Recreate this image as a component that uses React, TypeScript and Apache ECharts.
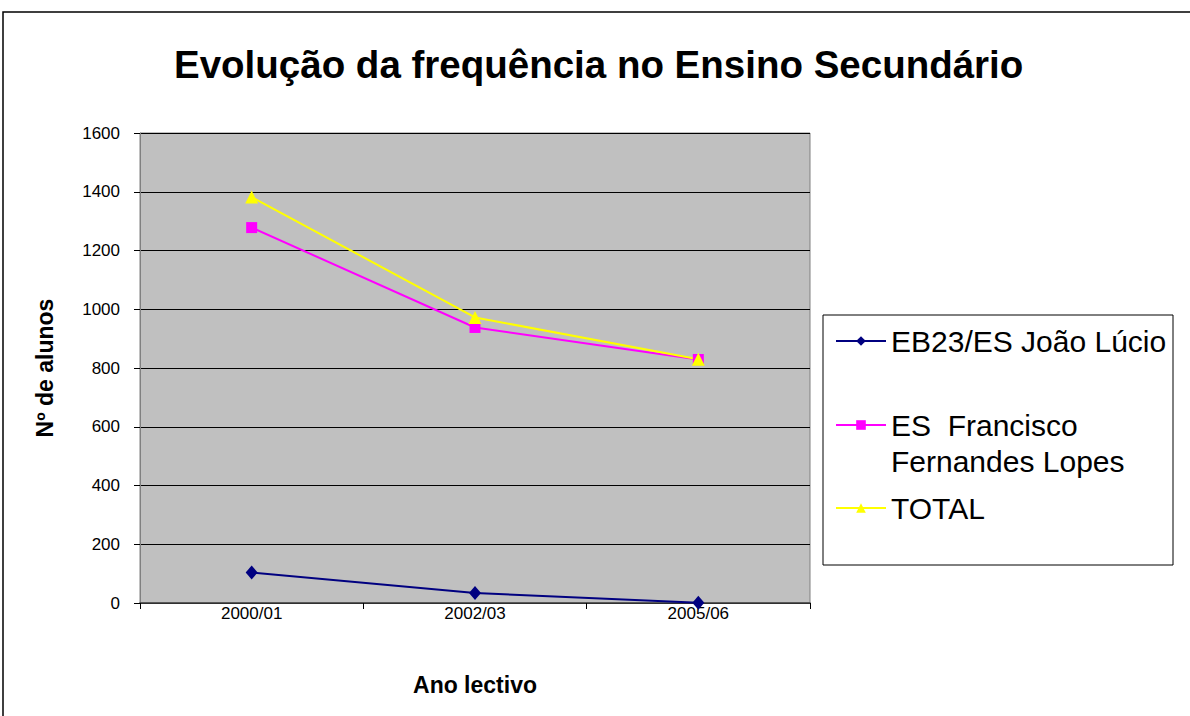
import React, { useEffect, useRef } from "react";
import * as echarts from "echarts";

const categories = ["2000/01", "2002/03", "2005/06"];
const joaoLucio = [104, 34, 1];
const franciscoFernandesLopes = [1278, 938, 829];
const total = [1382, 972, 830];
const seriesNames = ["EB23/ES João Lúcio", "ES  Francisco Fernandes Lopes", "TOTAL"];

export default function App() {
  const ref = useRef<HTMLDivElement>(null);
  useEffect(() => {
    if (!ref.current) return;
    const chart = echarts.init(ref.current, undefined, { renderer: "svg" });
    const font = "Liberation Sans, Arial, sans-serif";
    const legendText = { fontFamily: font, fontSize: 30, color: "#000", lineHeight: 36 };
    chart.setOption({
      animation: false,
      backgroundColor: "#fff",
      textStyle: { fontFamily: font },
      title: {
        text: "Evolução da frequência no Ensino Secundário",
        left: 174,
        top: 45,
        padding: 0,
        textStyle: { fontFamily: font, fontSize: 38.5, fontWeight: "bold", color: "#000" },
      },
      graphic: [
        { type: "rect", shape: { x: 3, y: 12, width: 1200, height: 720 }, style: { fill: "none", stroke: "#000", lineWidth: 1.5 }, silent: true },
        { type: "rect", shape: { x: 823, y: 315, width: 350, height: 250 }, style: { fill: "#fff", stroke: "#000", lineWidth: 1 }, silent: true, z: 0 },
      ],
      legend: [
        { data: [seriesNames[0]], left: 835, top: 323, padding: 0, itemWidth: 50, itemHeight: 12, textStyle: legendText, z: 5 },
        {
          data: [seriesNames[1]], left: 835, top: 371, padding: 0, itemWidth: 50, itemHeight: 12, z: 5,
          formatter: () => "\nES  Francisco\nFernandes Lopes",
          textStyle: legendText,
        },
        { data: [seriesNames[2]], left: 835, top: 490, padding: 0, itemWidth: 50, itemHeight: 12, textStyle: legendText, z: 5 },
      ],
      grid: {
        left: 140, top: 133, width: 670, height: 470, show: true,
        backgroundColor: "#C0C0C0", borderColor: "#808080", borderWidth: 1,
      },
      xAxis: {
        type: "category",
        data: categories,
        boundaryGap: true,
        name: "Ano lectivo",
        nameLocation: "middle",
        nameGap: 70,
        nameTextStyle: { fontFamily: font, fontSize: 23, fontWeight: "bold", color: "#000" },
        axisLine: { show: true, lineStyle: { color: "#404040", width: 1.5 } },
        axisTick: { show: true, length: 6, alignWithLabel: false, lineStyle: { color: "#000" } },
        axisLabel: { fontFamily: font, fontSize: 17, color: "#000", margin: 2 },
        splitLine: { show: false },
      },
      yAxis: {
        type: "value",
        min: 0,
        max: 1600,
        interval: 200,
        name: "Nº de alunos",
        nameLocation: "middle",
        nameGap: 84,
        nameTextStyle: { fontFamily: font, fontSize: 23, fontWeight: "bold", color: "#000" },
        axisLine: { show: true, lineStyle: { color: "#808080", width: 1 } },
        axisTick: { show: true, length: 6, lineStyle: { color: "#000" } },
        axisLabel: { fontFamily: font, fontSize: 17, color: "#000", margin: 20, formatter: (v: number) => String(v) },
        splitLine: { show: true, lineStyle: { color: "#000", width: 1 } },
      },
      series: [
        {
          name: seriesNames[0], type: "line", data: joaoLucio,
          symbol: "diamond", symbolSize: [12, 14],
          lineStyle: { color: "#000080", width: 2 }, itemStyle: { color: "#000080" },
        },
        {
          name: seriesNames[1], type: "line", data: franciscoFernandesLopes,
          symbol: "rect", symbolSize: 11,
          lineStyle: { color: "#FF00FF", width: 2 }, itemStyle: { color: "#FF00FF" },
        },
        {
          name: seriesNames[2], type: "line", data: total,
          symbol: "triangle", symbolSize: 13,
          lineStyle: { color: "#FFFF00", width: 2 }, itemStyle: { color: "#FFFF00" },
        },
      ],
    });
    return () => chart.dispose();
  }, []);
  return <div ref={ref} style={{ position: "fixed", left: 0, top: 0, width: 1190, height: 716 }} />;
}
